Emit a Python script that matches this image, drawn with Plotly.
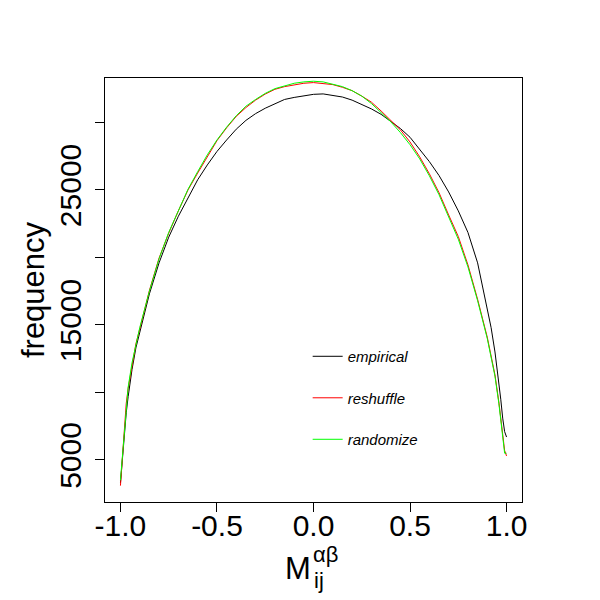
import plotly.graph_objects as go

# bin centres of the similarity histogram
m_values = [-1.00, -0.99, -0.98, -0.97, -0.96, -0.94, -0.92, -0.90,
            -0.85, -0.80, -0.75, -0.70, -0.65, -0.60, -0.55, -0.50, -0.45,
            -0.40, -0.35, -0.30, -0.25, -0.20, -0.15, -0.10, -0.05,
            0.00, 0.05, 0.10, 0.15, 0.20, 0.25, 0.30, 0.35, 0.40,
            0.45, 0.50, 0.55, 0.60, 0.65, 0.70, 0.75, 0.80, 0.85,
            0.90, 0.92, 0.94, 0.96, 0.97, 0.98, 0.99, 1.00]

empirical = [3300, 5100, 6900, 8500, 9700, 11700, 13300, 14500,
             17300, 19600, 21500, 23050, 24450, 25750, 26850, 27850, 28700,
             29500, 30150, 30650, 31050, 31400, 31700, 31850, 31980,
             32080, 32110, 32000, 31880, 31650, 31350, 31000, 30600, 30100,
             29550, 28900, 28000, 27100, 26070, 24850, 23450, 21850, 19600,
             16300, 14800, 13000, 10900, 9500, 8100, 7100, 6700]

reshuffle = [3100, 5200, 7200, 9200, 10300, 12100, 13600, 14700,
             17550, 19950, 21800, 23450, 25000, 26250, 27500, 28650, 29600,
             30450, 31100, 31650, 32100, 32450, 32650, 32800, 32900,
             32950, 32900, 32800, 32600, 32350, 31950, 31500, 30850, 30150,
             29450, 28550, 27450, 26200, 24800, 23150, 21550, 19450, 16900,
             14100, 12800, 11300, 9300, 8100, 6500, 5700, 5300]

randomize = [3500, 5300, 7100, 9300, 10400, 12200, 13500, 14800,
             17500, 19900, 21850, 23500, 25050, 26350, 27600, 28700, 29650,
             30500, 31200, 31700, 32150, 32500, 32700, 32900, 33000,
             33050, 33000, 32850, 32650, 32350, 31950, 31400, 30750, 30050,
             29250, 28350, 27300, 26050, 24650, 23050, 21350, 19300, 16800,
             14000, 12700, 11200, 9200, 8000, 6400, 5500, 5500]

series = [("empirical", empirical, "black"),
          ("reshuffle", reshuffle, "#ff0000"),
          ("randomize", randomize, "#00ff00")]

y_ticks = [5000, 10000, 15000, 20000, 25000, 30000]
y_labels = ["5000", "", "15000", "", "25000", ""]
x_ticks = [-1.0, -0.5, 0.0, 0.5, 1.0]
x_labels = ["-1.0", "-0.5", "0.0", "0.5", "1.0"]

FONT = "Liberation Sans, Arial, sans-serif"

fig = go.Figure()
for i, (name, vals, col) in enumerate(series):
    fig.add_trace(go.Scatter(x=m_values, y=vals, mode="lines", name=name,
                             legendgroup=str(i),
                             line=dict(color=col, width=1)))

axis_common = dict(showline=True, linecolor="black", linewidth=1, mirror=True,
                   ticks="outside", ticklen=9, tickcolor="black", tickwidth=1,
                   showgrid=False, zeroline=False,
                   tickfont=dict(family=FONT, size=30, color="black"))

fig.update_xaxes(range=[-1.08, 1.08], tickvals=x_ticks, ticktext=x_labels,
                 ticklabelstandoff=-12, **axis_common)
fig.update_yaxes(range=[1889, 33289], tickvals=y_ticks, ticktext=y_labels,
                 tickangle=-90, ticklabelstandoff=2,
                 title=dict(text="frequency", font=dict(family=FONT, size=31, color="black"),
                            standoff=0),
                 **axis_common)

# x-axis label M with stacked sub/superscript, like R's plotmath
fig.add_annotation(x=-0.08, y=-0.158, xref="x", yref="paper", text="M",
                   xanchor="center", yanchor="middle",
                   showarrow=False, font=dict(family=FONT, size=31, color="black"))
fig.add_annotation(x=0.027, y=-0.186, xref="x", yref="paper", text="ij",
                   xanchor="center", yanchor="middle",
                   showarrow=False, font=dict(family=FONT, size=22, color="black"))
fig.add_annotation(x=0.063, y=-0.124, xref="x", yref="paper", text="αβ",
                   xanchor="center", yanchor="middle",
                   showarrow=False, font=dict(family=FONT, size=22, color="black"))

fig.update_layout(
    width=600, height=600,
    margin=dict(l=97, r=86, t=70, b=106),
    paper_bgcolor="white", plot_bgcolor="white",
    showlegend=True,
    legend=dict(x=0.486, y=0.382, xanchor="left", yanchor="top",
                bgcolor="rgba(0,0,0,0)", borderwidth=0,
                traceorder="grouped", tracegroupgap=19,
                font=dict(family=FONT, size=15, color="black", style="italic")),
)

fig.write_html("out.html")
